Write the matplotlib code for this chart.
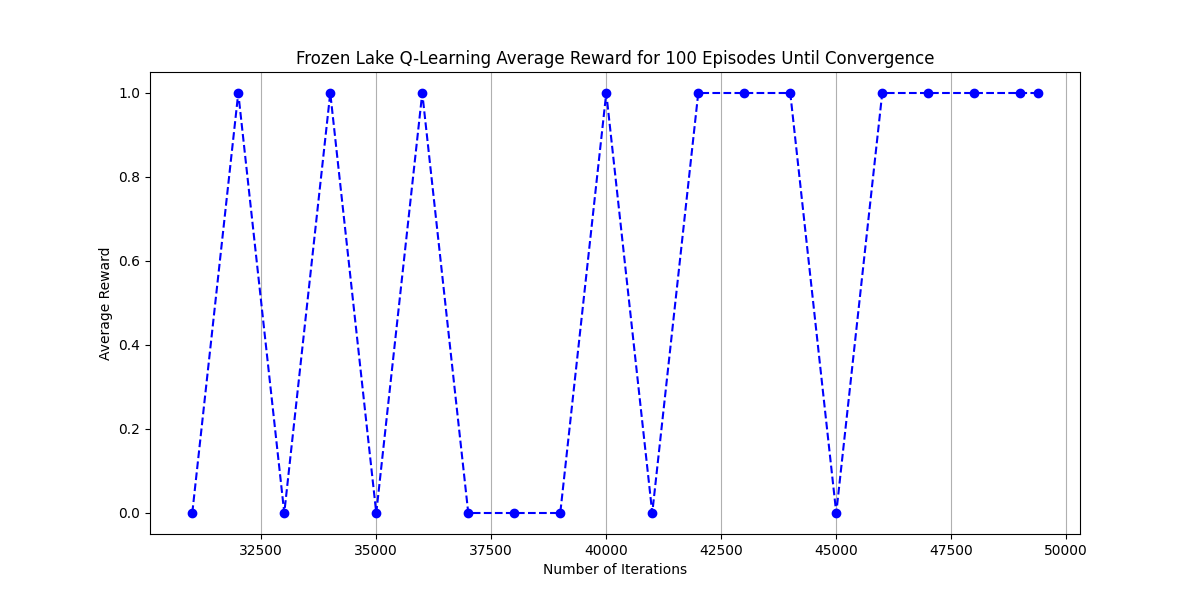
import matplotlib
matplotlib.use("Agg")
import matplotlib.pyplot as plt

# iteraciones y recompensa promedio
iterations = [31000, 32000, 33000, 34000, 35000, 36000, 37000, 38000, 39000, 40000,
              41000, 42000, 43000, 44000, 45000, 46000, 47000, 48000, 49000, 49380]
avg_reward = [0.0, 1.0, 0.0, 1.0, 0.0, 1.0, 0.0, 0.0, 0.0, 1.0,
              0.0, 1.0, 1.0, 1.0, 0.0, 1.0, 1.0, 1.0, 1.0, 1.0]

fig, ax = plt.subplots(figsize=(12, 6), dpi=100)
ax.plot(iterations, avg_reward, 'bo--')
ax.set_title("Frozen Lake Q-Learning Average Reward for 100 Episodes Until Convergence")
ax.set_xlabel("Number of Iterations")
ax.set_ylabel("Average Reward")
ax.grid(axis='x')

fig.savefig("out.png")
